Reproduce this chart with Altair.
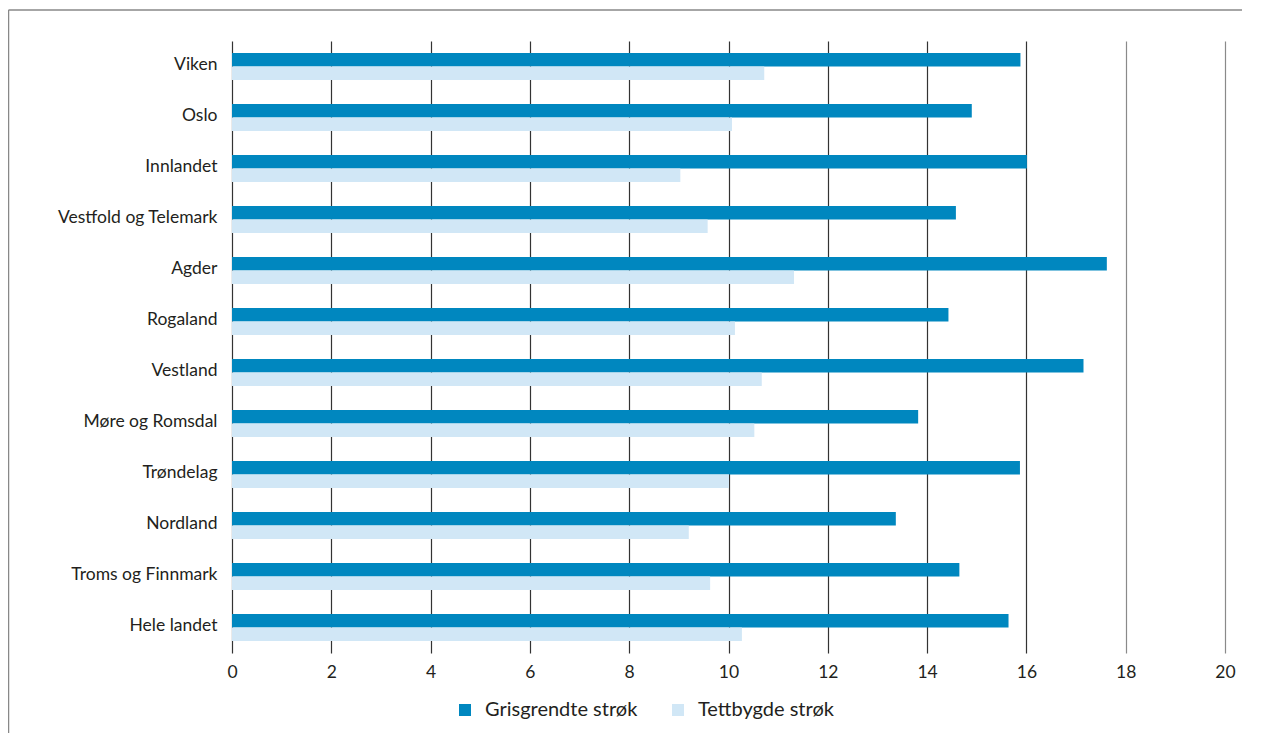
import altair as alt
import pandas as pd

regions = ["Viken", "Oslo", "Innlandet", "Vestfold og Telemark", "Agder", "Rogaland",
           "Vestland", "Møre og Romsdal", "Trøndelag", "Nordland", "Troms og Finnmark", "Hele landet"]
grisgrendte = [15.88, 14.90, 16.01, 14.58, 17.62, 14.43, 17.15, 13.82, 15.87, 13.37, 14.65, 15.64]
tettbygde = [10.72, 10.07, 9.03, 9.58, 11.32, 10.13, 10.67, 10.52, 10.01, 9.20, 9.63, 10.27]
series = ["Grisgrendte strøk", "Tettbygde strøk"]
colors = ["#0087BF", "#D1E7F6"]
x_ticks = list(range(0, 21, 2))

rows = []
for r, g, t in zip(regions, grisgrendte, tettbygde):
    rows.append({"region": r, "serie": series[0], "verdi": g})
    rows.append({"region": r, "serie": series[1], "verdi": t})
df = pd.DataFrame(rows)

FONT = "Lato"
FS = 17.5
TXT = "#231f20"

bars = alt.Chart(df).mark_bar(size=13.5).encode(
    y=alt.Y("region:N", sort=regions, title=None,
            scale=alt.Scale(paddingInner=0.47, paddingOuter=0.235),
            axis=alt.Axis(ticks=False, domain=False, grid=False, labelPadding=15, labelOffset=-1.5,
                          labelFontSize=FS, labelFont=FONT, labelColor=TXT)),
    yOffset=alt.YOffset("serie:N", sort=series),
    x=alt.X("verdi:Q", title=None,
            scale=alt.Scale(domain=[0, 20], nice=False),
            axis=alt.Axis(values=x_ticks, ticks=False, domain=False, grid=True,
                          gridColor={"condition": {"test": "datum.value >= 18", "value": "#8a8a8a"},
                                     "value": "#333333"},
                          gridWidth=1.2, labelPadding=10, labelFontSize=FS, labelFlush=False,
                          labelFont=FONT, labelColor=TXT)),
    color=alt.Color("serie:N", sort=series,
                    scale=alt.Scale(domain=series, range=colors),
                    legend=alt.Legend(title=None, orient="none", direction="horizontal",
                                      legendX=223, legendY=659, symbolType="square",
                                      symbolSize=144, symbolStrokeWidth=0,
                                      labelFontSize=20, labelFont=FONT, labelColor=TXT,
                                      labelOffset=10, columnPadding=30)),
)

frame_df = pd.DataFrame({"a": [0]})
frame_top = alt.Chart(frame_df).mark_rule(stroke="#888888", strokeWidth=1.5).encode(
    x=alt.value(-223.5), x2=alt.value(1010), y=alt.value(-31),
)
frame_left = alt.Chart(frame_df).mark_rule(stroke="#888888", strokeWidth=1.5).encode(
    x=alt.value(-223.5), y=alt.value(-31), y2=alt.value(720),
)

chart = alt.layer(bars, frame_top, frame_left).properties(
    width=993, height=612,
    autosize=alt.AutoSizeParams(type="none"),
    padding={"left": 224, "top": 33, "right": 32, "bottom": 80},
).configure_view(stroke=None)

chart.save("out.html", embed_options={"renderer": "svg", "actions": False})
